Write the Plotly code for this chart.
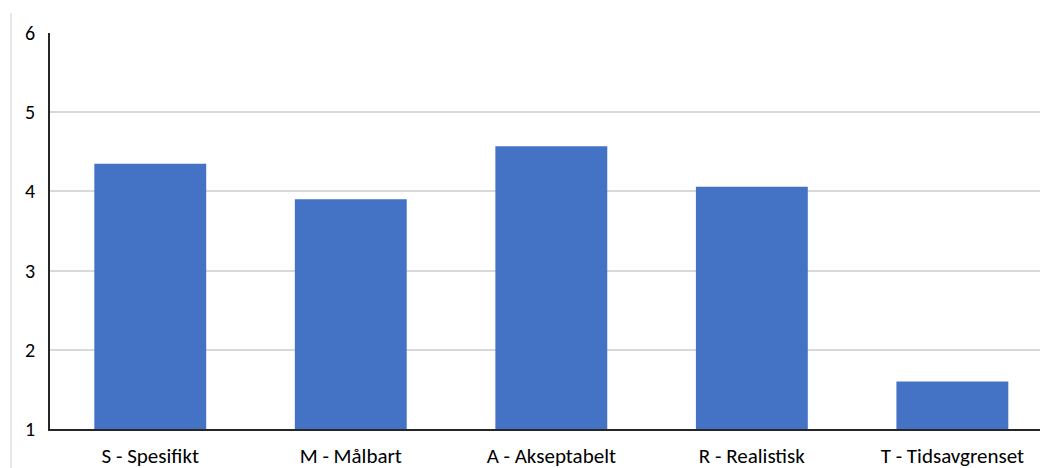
import plotly.graph_objects as go

categories = ["S - Spesifikt", "M - Målbart", "A - Akseptabelt", "R - Realistisk", "T - Tidsavgrenset"]
values = [4.35, 3.9, 4.57, 4.06, 1.6]
y_ticks = [1, 2, 3, 4, 5, 6]

W, H = 1040, 468
ML, MR, MT, MB = 50, 0, 33, 39

fig = go.Figure(
    go.Bar(
        x=list(range(len(categories))),
        y=values,
        marker=dict(color="#4472C4", line=dict(width=0)),
        width=0.558,
    )
)

family = "Carlito, Calibri, Noto Sans, sans-serif"

fig.update_layout(
    width=W,
    height=H,
    margin=dict(l=ML, r=MR, t=MT, b=MB),
    paper_bgcolor="white",
    plot_bgcolor="white",
    showlegend=False,
    font=dict(family=family, size=20, color="#000000"),
    xaxis=dict(
        tickmode="array",
        tickvals=list(range(len(categories))),
        ticktext=categories,
        tickfont=dict(family=family, size=21, color="#000000"),
        range=[-0.5, 4.437],
        showgrid=False,
        showline=True,
        linecolor="#262626",
        linewidth=1.5,
        ticks="",
        ticklabelstandoff=7,
        zeroline=False,
    ),
    yaxis=dict(
        range=[1, 6],
        tickmode="array",
        tickvals=y_ticks,
        ticktext=[str(v) for v in y_ticks],
        tickfont=dict(family=family, size=20, color="#000000"),
        showgrid=True,
        gridcolor="#d9d9d9",
        gridwidth=1.5,
        showline=True,
        linecolor="#262626",
        linewidth=1.5,
        ticks="",
        ticklabelstandoff=9,
        zeroline=False,
    ),
    shapes=[
        dict(
            type="line",
            xref="paper",
            yref="paper",
            x0=(11 - ML) / (W - ML - MR),
            x1=(11 - ML) / (W - ML - MR),
            y0=(H - 13 - MB) / (H - MT - MB),
            y1=-MB / (H - MT - MB),
            line=dict(color="#d0d0d0", width=1),
        )
    ],
)

fig.write_html("out.html")
